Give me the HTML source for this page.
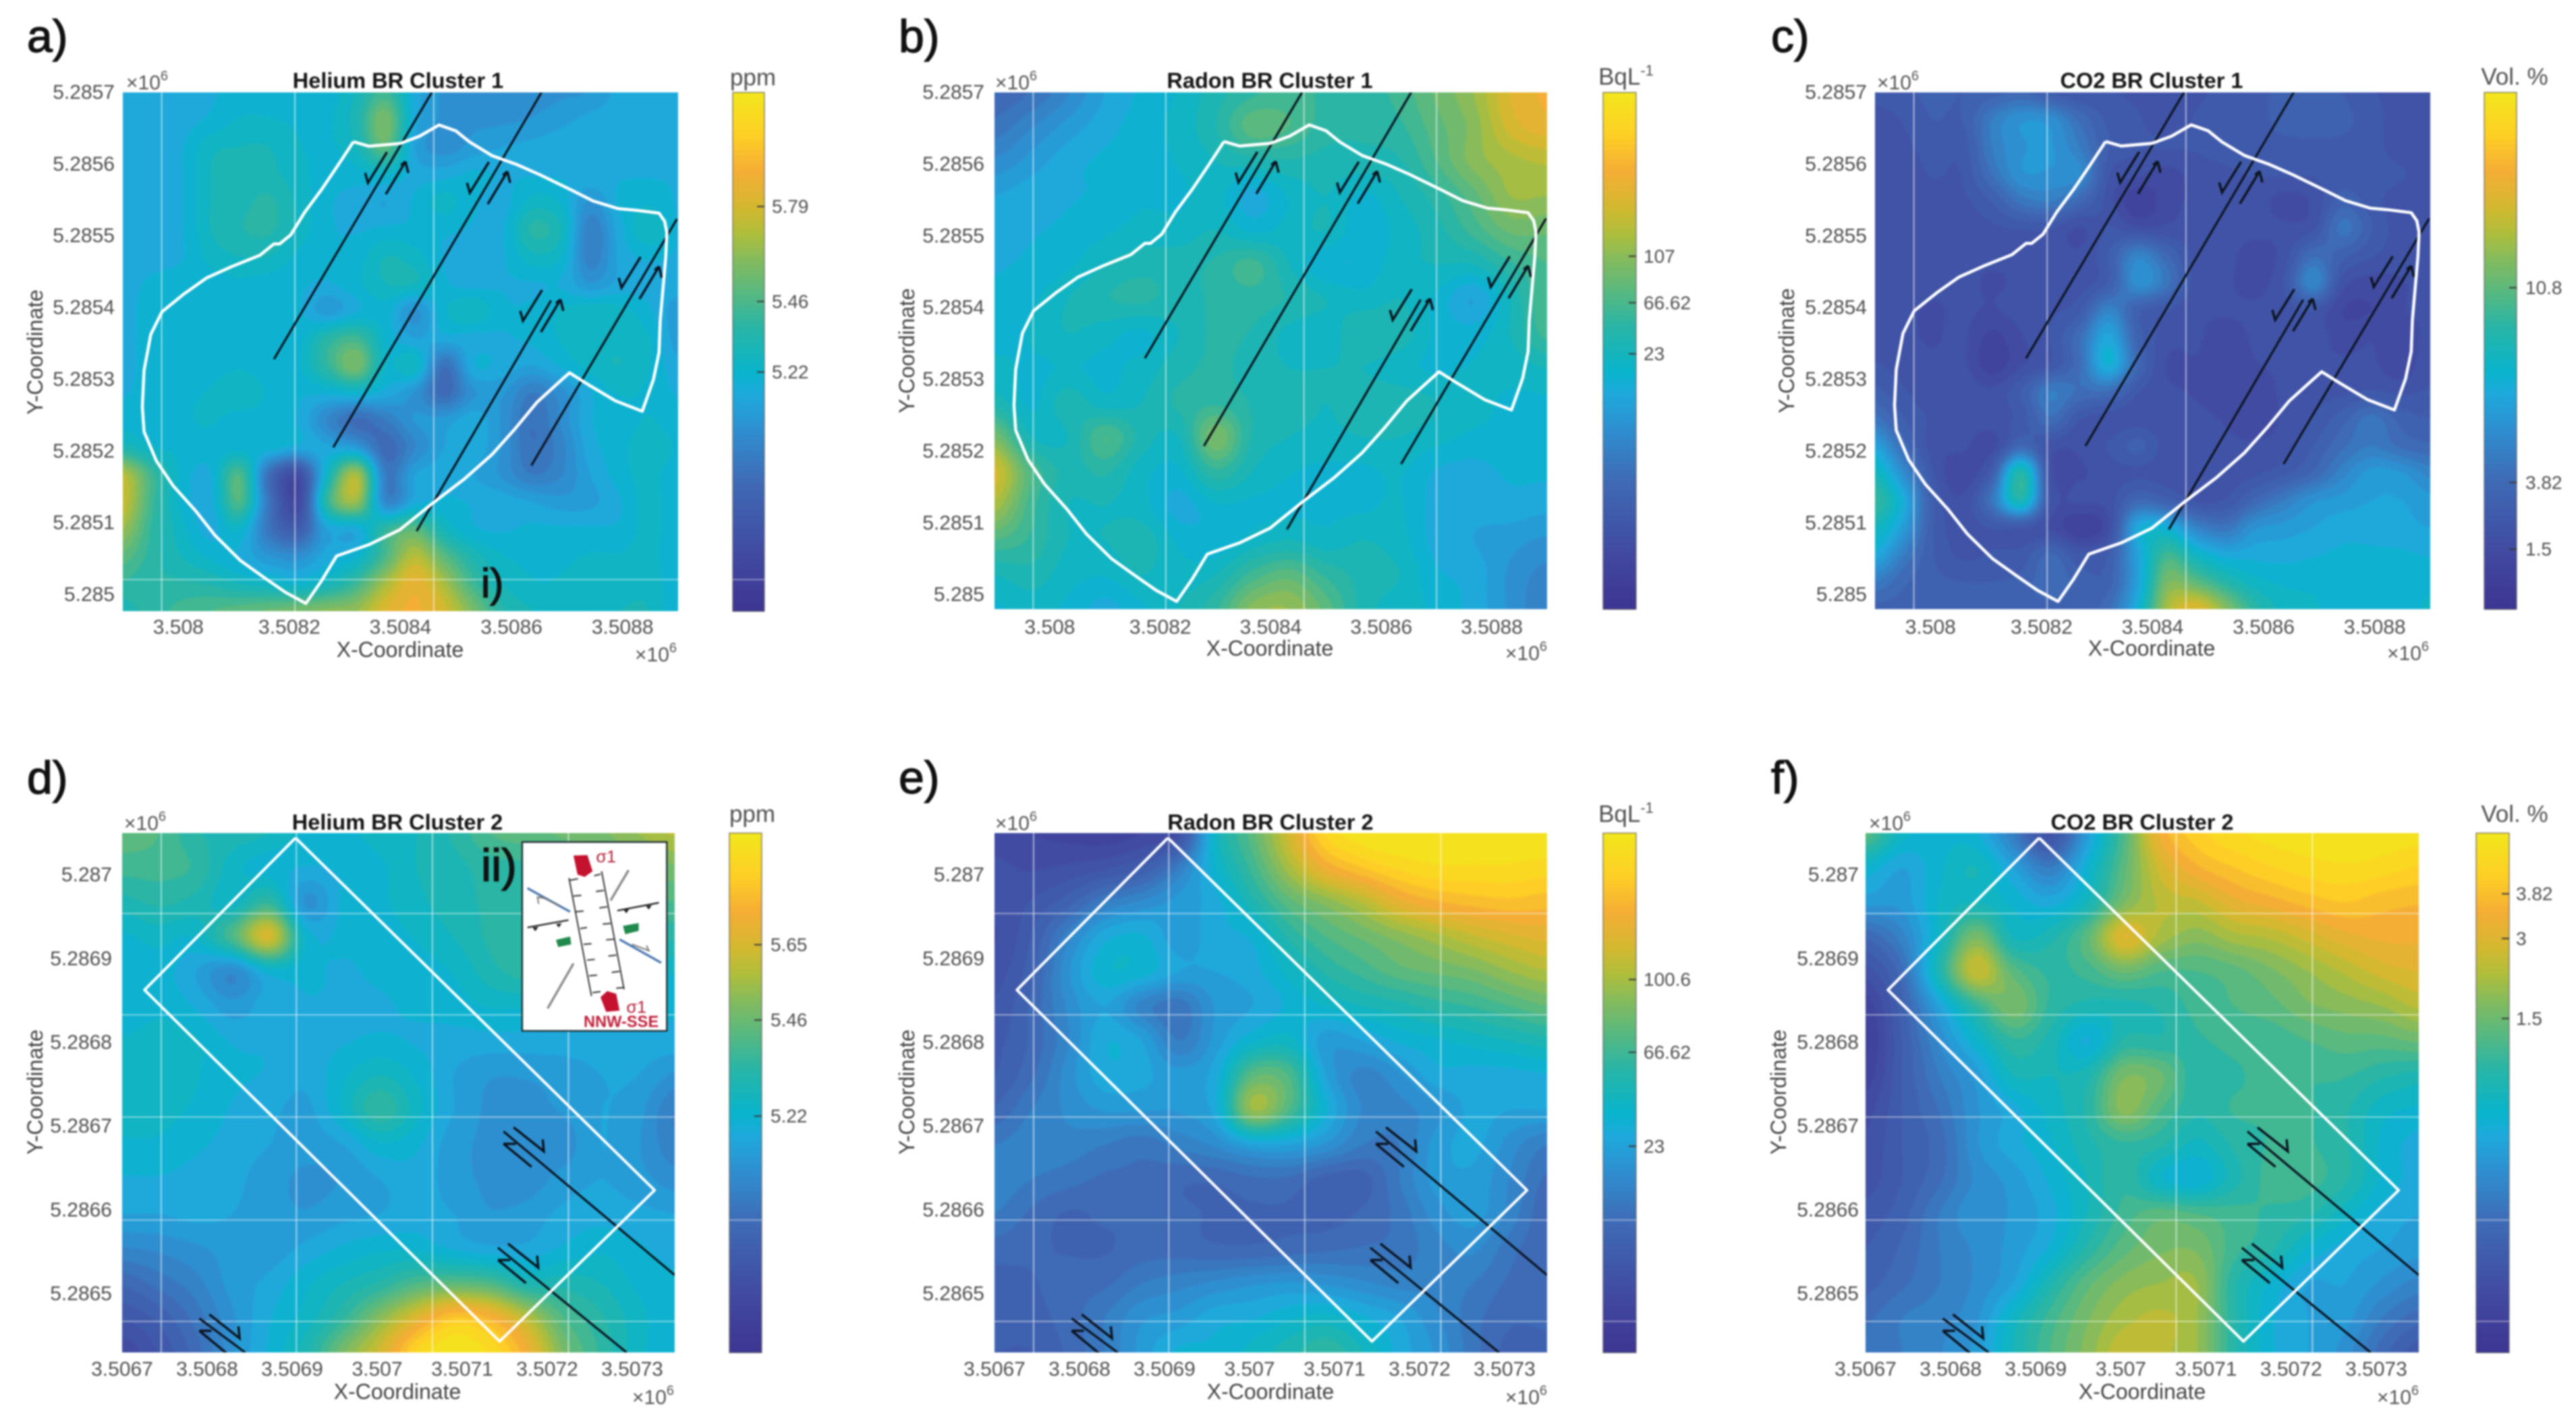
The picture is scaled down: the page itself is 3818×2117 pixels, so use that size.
<!DOCTYPE html>
<html lang="en">
<head>
<meta charset="utf-8">
<title>Soil gas maps, BR clusters 1 and 2</title>
<style>
html,body{margin:0;padding:0;background:#fff;}
svg{display:block;font-family:"Liberation Sans",sans-serif;filter:blur(1.4px);}
.tick{font-size:30px;fill:#505050;}
.cbtick{font-size:28px;fill:#505050;}
.axt{font-size:32px;fill:#444;text-anchor:middle;dominant-baseline:central;}
.title{font-size:32.5px;font-weight:bold;fill:#151515;text-anchor:middle;dominant-baseline:central;}
.mult{font-size:30px;fill:#555;dominant-baseline:central;}
.cbt{font-size:35px;fill:#505050;text-anchor:middle;dominant-baseline:central;}
.letter{font-size:68px;fill:#111;stroke:#111;stroke-width:1.4px;}
</style>
</head>
<body>
<svg id="fig" xmlns="http://www.w3.org/2000/svg" width="3818" height="2117" viewBox="0 0 3818 2117">
<rect width="3818" height="2117" fill="#fff"/>
<defs id="defs"></defs>
<g id="panels"></g>

<g>
<text class="letter" x="40" y="77">a)</text>
<text class="title" x="590" y="119.5">Helium BR Cluster 1</text>
<text class="axt" x="593" y="963">X-Coordinate</text>
<text class="axt" transform="translate(52 522) rotate(-90)">Y-Coordinate</text>
<text class="mult" x="187" y="123">×10<tspan dy="-10" font-size="20">6</tspan></text>
<text class="mult" x="1003" y="971" text-anchor="end">×10<tspan dy="-10" font-size="20">6</tspan></text>
<text class="cbt" x="1116" y="115">ppm</text>
<text class="letter" x="713" y="885" style="font-size:60px">i)</text>
</g>
<g>
<text class="letter" x="1332" y="77">b)</text>
<text class="title" x="1882" y="119.5">Radon BR Cluster 1</text>
<text class="axt" x="1882" y="961">X-Coordinate</text>
<text class="axt" transform="translate(1344 520) rotate(-90)">Y-Coordinate</text>
<text class="mult" x="1475" y="123">×10<tspan dy="-10" font-size="20">6</tspan></text>
<text class="mult" x="2293" y="969" text-anchor="end">×10<tspan dy="-10" font-size="20">6</tspan></text>
<text class="cbt" x="2410" y="114">BqL<tspan dy="-10" font-size="22">-1</tspan></text>
</g>
<g>
<text class="letter" x="2625" y="77">c)</text>
<text class="title" x="3189" y="119.5">CO2 BR Cluster 1</text>
<text class="axt" x="3189" y="961">X-Coordinate</text>
<text class="axt" transform="translate(2648 520) rotate(-90)">Y-Coordinate</text>
<text class="mult" x="2782" y="123">×10<tspan dy="-10" font-size="20">6</tspan></text>
<text class="mult" x="3600" y="969" text-anchor="end">×10<tspan dy="-10" font-size="20">6</tspan></text>
<text class="cbt" x="3727" y="114">Vol. %</text>
</g>
<g>
<text class="letter" x="40" y="1176">d)</text>
<text class="title" x="589" y="1219">Helium BR Cluster 2</text>
<text class="axt" x="589" y="2063">X-Coordinate</text>
<text class="axt" transform="translate(52 1619) rotate(-90)">Y-Coordinate</text>
<text class="mult" x="184" y="1221">×10<tspan dy="-10" font-size="20">6</tspan></text>
<text class="mult" x="999" y="2072" text-anchor="end">×10<tspan dy="-10" font-size="20">6</tspan></text>
<text class="cbt" x="1115" y="1207">ppm</text>
</g>
<g>
<text class="letter" x="1332" y="1176">e)</text>
<text class="title" x="1883" y="1219">Radon BR Cluster 2</text>
<text class="axt" x="1883" y="2063">X-Coordinate</text>
<text class="axt" transform="translate(1344 1619) rotate(-90)">Y-Coordinate</text>
<text class="mult" x="1475" y="1221">×10<tspan dy="-10" font-size="20">6</tspan></text>
<text class="mult" x="2293" y="2072" text-anchor="end">×10<tspan dy="-10" font-size="20">6</tspan></text>
<text class="cbt" x="2410" y="1207">BqL<tspan dy="-10" font-size="22">-1</tspan></text>
</g>
<g>
<text class="letter" x="2625" y="1176">f)</text>
<text class="title" x="3175" y="1219">CO2 BR Cluster 2</text>
<text class="axt" x="3175" y="2063">X-Coordinate</text>
<text class="axt" transform="translate(2636 1619) rotate(-90)">Y-Coordinate</text>
<text class="mult" x="2770" y="1221">×10<tspan dy="-10" font-size="20">6</tspan></text>
<text class="mult" x="3585" y="2072" text-anchor="end">×10<tspan dy="-10" font-size="20">6</tspan></text>
<text class="cbt" x="3727" y="1207">Vol. %</text>
</g>

<g>
<text class="letter" x="713" y="1306">ii)</text>
<g transform="translate(750 1220) scale(0.3333)">
<rect x="72" y="85" width="643" height="840" fill="#fff" stroke="#1c2a30" stroke-width="7"/>
<g stroke="#333" stroke-width="6" fill="none">
<path d="M280 245L380 770M425 215L525 740"/>
<path d="M285 255L320 248M300 325L335 322M310 395L345 392M330 470L360 465M345 540L380 537M360 610L395 607M370 680L405 677M385 755L420 750"/>
<path d="M392 235L420 228M400 305L435 300M415 378L450 373M430 450L465 447M445 520L480 517M455 592L490 588M470 665L505 660M490 735L525 732"/>
</g>
<polygon points="300,145 362,143 385,215 350,240 318,230" fill="#c4122f"/>
<polygon points="420,775 450,748 490,760 505,835 445,840" fill="#c4122f"/>
<path d="M95 290L285 395M505 518L690 622" stroke="#4a78b0" stroke-width="10" fill="none"/>
<path d="M150 325L240 370M145 360L140 330L170 335M560 540L640 570M625 545L635 570" stroke="#777" stroke-width="6" fill="none"/>
<path d="M465 345L545 210M185 825L300 625" stroke="#888" stroke-width="10" fill="none"/>
<path d="M495 390L680 355M95 465L278 432" stroke="#222" stroke-width="7" fill="none"/>
<path d="M522 385L548 382L535 402ZM622 370L648 366L635 385ZM118 465L144 462L130 482ZM222 450L248 446L235 465Z" fill="#222"/>
<polygon points="520,458 590,445 590,480 530,495" fill="#1f8a4c"/>
<polygon points="222,520 285,505 290,540 232,552" fill="#1f8a4c"/>
<text x="400" y="175" font-size="76" fill="#b5203a">σ1</text>
<text x="535" y="845" font-size="76" fill="#b5203a">σ1</text>
<text x="345" y="908" font-size="71" font-weight="bold" fill="#c0203a">NNW-SSE</text>
</g>
</g>
</svg>

<script>
/* Every grid: value = position on the colour bar, in percent. */
const heliumCluster1Grid = [
[42,42,42,43,44,44,44,45,50,58,42,36,35,35,35,36,37,41,42,42],
[42,42,42,44,47,47,46,46,52,66,42,36,36,36,37,39,41,42,42,42],
[42,42,43,49,50,50,47,46,50,62,40,35,38,40,41,42,42,42,42,42],
[42,42,43,50,51,51,48,45,45,47,42,42,44,43,43,43,43,43,43,43],
[42,42,43,50,52,54,49,44,42,40,44,48,44,42,48,46,36,44,46,43],
[42,42,43,50,53,54,49,44,43,44,44,44,43,43,54,50,31,42,50,43],
[42,42,43,48,50,50,46,44,45,50,48,43,42,43,49,47,31,41,44,43],
[42,44,45,45,46,45,44,43,46,50,50,44,42,43,43,43,37,41,42,42],
[42,45,45,45,45,45,44,38,43,45,36,46,50,44,44,47,49,48,44,38],
[42,45,45,45,45,45,45,54,58,46,40,42,42,43,44,47,49,49,47,38],
[42,45,45,45,46,45,46,56,66,47,49,27,43,42,40,44,48,50,47,41],
[43,45,46,47,50,46,44,44,46,42,36,25,36,37,30,35,43,47,46,43],
[45,45,46,47,45,45,43,33,26,30,37,38,42,36,27,34,43,44,47,44],
[52,47,46,45,45,45,42,41,38,25,33,40,42,36,27,32,42,45,50,46],
[74,58,46,43,60,26,13,48,72,30,40,42,40,36,30,33,40,45,48,44],
[76,58,46,42,60,28,11,56,70,33,42,44,43,42,40,38,39,43,48,44],
[70,56,48,42,47,28,20,40,42,56,62,50,44,43,44,44,44,44,48,44],
[62,55,50,46,43,37,35,42,46,60,74,62,52,47,46,46,47,47,48,44],
[56,54,54,53,50,48,46,50,58,72,82,72,58,50,47,47,48,48,49,44],
[52,55,58,60,62,64,66,68,70,80,84,78,66,54,50,48,48,50,50,44]];

const radonCluster1Grid = [
[24,27,33,40,44,47,52,56,58,56,55,58,64,70,80,84],
[28,33,38,42,45,48,53,62,60,55,54,56,62,68,78,82],
[34,38,42,44,45,47,50,52,53,52,52,53,60,68,72,74],
[40,42,43,44,46,46,48,42,47,50,46,50,55,62,70,70],
[42,43,44,46,48,48,50,46,48,50,44,48,52,58,64,64],
[43,44,46,50,52,52,54,58,50,44,44,49,50,50,56,60],
[44,46,50,53,54,52,54,55,53,50,48,50,46,40,50,60],
[45,47,50,48,46,50,54,53,49,48,53,52,46,45,50,58],
[48,46,47,46,48,52,54,52,50,50,50,48,46,47,48,50],
[52,46,52,48,50,54,56,53,52,50,52,52,50,48,46,46],
[66,50,50,60,52,50,66,53,50,49,50,50,48,46,46,45],
[78,60,52,54,48,46,56,50,47,46,46,47,43,42,44,44],
[72,58,50,50,48,42,46,46,46,46,46,47,42,41,42,41],
[60,56,50,50,52,46,44,48,50,48,50,48,42,40,38,36],
[50,52,48,47,50,48,50,58,62,56,52,50,44,42,36,32],
[46,48,46,42,46,50,56,68,70,62,52,48,46,42,36,30]];

const co2Cluster1Grid = [
[18,19,21,20,22,24,20,17,17,16,15,16,18,19,21,22,20,17,16,15],
[15,17,20,20,30,36,35,26,19,17,15,17,18,19,21,22,21,18,15,15],
[15,16,18,18,30,36,37,30,20,17,17,17,18,19,19,19,19,18,15,15],
[14,15,17,17,27,36,36,34,17,14,12,15,16,17,17,17,18,18,17,15],
[14,15,15,16,20,28,30,24,15,7,12,14,15,15,12,14,22,18,15,15],
[15,15,15,15,16,17,17,13,17,14,14,15,15,15,14,16,28,20,15,15],
[15,15,14,14,14,14,15,14,20,32,24,15,15,11,15,26,21,17,15,15],
[14,15,14,14,13,14,15,15,20,35,28,15,14,12,17,33,15,12,13,15],
[15,14,13,14,13,15,16,19,32,21,17,14,14,14,15,17,10,10,13,14],
[15,14,13,14,9,13,17,26,41,22,15,14,11,14,15,15,12,13,12,14],
[17,15,14,14,8,13,17,26,44,24,13,13,10,13,14,14,14,14,11,16],
[21,17,15,16,14,20,30,26,26,17,14,13,11,11,14,15,16,17,16,17],
[28,20,16,15,15,18,26,17,15,15,14,14,13,11,14,17,22,28,22,20],
[40,25,15,14,12,24,15,14,17,21,15,14,14,14,15,20,26,30,26,24],
[50,34,17,11,20,54,15,13,15,16,15,14,15,16,19,24,32,38,37,32],
[57,42,20,14,28,52,17,14,15,24,21,16,17,24,30,36,38,40,40,38],
[50,38,20,15,17,17,13,7,13,42,44,32,28,36,38,40,42,42,41,40],
[42,30,20,16,17,18,24,17,20,40,58,48,42,42,42,43,44,44,44,43],
[30,24,21,20,20,21,26,22,22,40,66,62,54,48,46,46,46,46,46,46],
[22,22,21,22,22,22,22,22,26,44,72,80,68,55,49,47,46,46,46,47]];

const heliumCluster2Grid = [
[62,60,54,52,50,46,46,48,50,54,60,62,64,66,70,74],
[58,58,56,48,45,43,44,46,50,52,55,56,58,60,62,66],
[52,54,52,48,56,36,44,46,49,52,54,56,56,58,58,60],
[46,48,47,60,78,46,44,45,47,50,54,56,56,56,56,54],
[44,45,40,34,45,44,43,44,45,47,52,55,54,52,50,47],
[44,46,43,38,42,43,43,43,44,45,47,47,47,46,45,44],
[47,48,47,43,43,42,43,44,43,42,42,42,42,42,42,42],
[49,49,47,44,43,41,46,50,46,40,37,37,38,40,40,36],
[49,48,46,43,41,39,47,56,48,40,36,36,37,40,38,30],
[46,46,44,42,40,38,40,46,44,38,36,35,35,40,37,31],
[43,43,42,41,38,36,37,40,42,38,36,35,38,40,38,35],
[40,40,41,40,38,37,39,40,42,40,37,38,41,42,41,40],
[33,34,36,38,38,41,44,46,46,43,41,41,44,46,44,42],
[24,28,32,38,41,46,50,54,60,62,60,52,52,50,46,44],
[17,21,28,36,43,48,56,68,80,90,86,74,60,54,48,44],
[11,17,25,36,44,52,66,78,94,100,96,84,66,56,48,44]];

const radonCluster2Grid = [
[12,10,9,8,10,14,48,62,78,94,99,100,100,100,100,100],
[14,13,14,16,20,30,46,58,72,84,90,94,96,96,96,95],
[14,17,22,30,34,38,42,52,62,68,74,82,86,88,89,88],
[13,20,32,42,44,38,42,44,54,60,64,68,72,76,79,81],
[15,22,36,46,45,40,40,42,48,54,58,62,64,66,70,73],
[17,24,34,40,32,28,37,40,44,47,50,52,55,57,60,63],
[19,24,33,43,40,30,38,46,48,38,40,44,46,48,50,52],
[20,26,35,42,41,38,42,62,60,40,32,36,42,42,42,43],
[24,30,34,37,37,37,42,70,60,44,33,32,36,41,40,40],
[30,32,32,30,28,31,34,40,40,36,30,30,38,41,35,30],
[32,30,28,26,26,24,24,26,26,22,22,30,38,39,33,26],
[30,26,23,24,24,24,23,23,23,22,24,28,35,38,32,24],
[25,24,23,23,25,25,24,24,25,26,27,28,32,34,28,24],
[22,23,25,26,30,32,34,36,37,36,34,32,32,30,26,24],
[22,22,25,30,36,38,42,43,46,48,44,40,34,28,24,24],
[20,20,24,30,38,44,44,48,52,56,50,42,36,28,22,22]];

const co2Cluster2Grid = [
[62,48,46,44,30,15,38,60,84,92,96,98,99,100,99,98],
[46,40,46,50,40,30,45,62,78,86,90,93,95,96,95,93],
[38,38,47,50,46,42,50,66,74,76,82,85,88,90,88,87],
[24,32,48,66,50,52,62,80,72,68,72,74,78,82,84,84],
[15,26,52,76,62,56,58,64,60,60,62,66,70,74,78,80],
[8,22,40,56,66,56,52,52,54,58,60,62,66,68,70,74],
[6,20,34,46,56,52,43,54,54,56,58,58,60,62,62,64],
[8,20,30,38,50,50,52,66,64,54,56,58,57,57,54,52],
[12,20,27,36,42,48,54,68,60,54,57,57,57,54,48,46],
[14,20,25,36,42,46,52,56,54,49,54,57,57,54,46,42],
[15,20,26,34,38,44,50,56,47,44,52,58,58,54,46,42],
[18,22,30,36,37,42,50,58,62,60,58,56,54,48,42,40],
[20,24,30,34,38,44,54,62,66,66,58,54,46,42,40,38],
[22,26,30,34,40,52,62,68,70,70,54,46,40,40,36,32],
[26,30,32,36,48,58,66,72,74,70,54,44,40,38,30,25],
[28,30,33,38,50,60,68,76,74,70,54,44,40,35,25,18]];

/* Axis ticks */
const cluster1XTickValues = [3.508,3.5082,3.5084,3.5086,3.5088];
const cluster1XTickLabels = ['3.508','3.5082','3.5084','3.5086','3.5088'];
const cluster1YTickValues = [5.2857,5.2856,5.2855,5.2854,5.2853,5.2852,5.2851,5.285];
const cluster1YTickLabels = ['5.2857','5.2856','5.2855','5.2854','5.2853','5.2852','5.2851','5.285'];
const cluster2XTickValues = [3.5067,3.5068,3.5069,3.507,3.5071,3.5072,3.5073];
const cluster2XTickLabels = ['3.5067','3.5068','3.5069','3.507','3.5071','3.5072','3.5073'];
const cluster2YTickValues = [5.287,5.2869,5.2868,5.2867,5.2866,5.2865];
const cluster2YTickLabels = ['5.287','5.2869','5.2868','5.2867','5.2866','5.2865'];

/* Colour-bar ticks: position on the bar in percent, and printed label */
const heliumCluster1BarTicks = [78,59.7,46.1];
const heliumCluster1BarLabels = ['5.79','5.46','5.22'];
const radonCluster1BarTicks = [68.3,59.3,49.4];
const radonCluster1BarLabels = ['107','66.62','23'];
const co2Cluster1BarTicks = [62.2,24.5,11.6];
const co2Cluster1BarLabels = ['10.8','3.82','1.5'];
const heliumCluster2BarTicks = [78.5,64,45.5];
const heliumCluster2BarLabels = ['5.65','5.46','5.22'];
const radonCluster2BarTicks = [71.8,57.8,39.7];
const radonCluster2BarLabels = ['100.6','66.62','23'];
const co2Cluster2BarTicks = [88.3,79.7,64.3];
const co2Cluster2BarLabels = ['3.82','3','1.5'];

/* Faint white graticule lines, in map coordinates */
const cluster1GridX4 = [3.50797,3.50821,3.50846,3.5087];
const cluster1GridX3 = [3.50797,3.50821,3.50846];
const cluster1GridY = [5.285021];
const cluster2GridX = [3.506746,3.506905,3.507065,3.507225];
const cluster2GridXShort = [3.507065,3.507225];
const cluster2GridY = [5.286954,5.286833,5.286711,5.286588,5.286467];

/* Digitised annotations, given in frame units of the digitising sheet */
const cluster1Frame = {x0:220,x1:1212,y0:205,y1:1352};
const cluster1Outline = [[632,314],[660,324],[715,318],[750,302],[785,277],[815,290],[840,315],[880,345],[925,365],[965,387],[1020,420],[1060,445],[1105,462],[1140,466],[1178,472],[1188,490],[1192,515],[1190,570],[1185,640],[1180,710],[1178,780],[1168,840],[1148,910],[1100,887],[1050,850],[1018,825],[1000,845],[960,890],[920,950],[880,1005],[830,1060],[775,1112],[715,1172],[660,1205],[602,1230],[575,1285],[547,1335],[510,1310],[475,1280],[430,1240],[385,1185],[350,1130],[310,1075],[280,1020],[258,955],[255,900],[258,820],[270,740],[290,690],[330,650],[370,615],[415,590],[465,565],[490,540],[500,540],[520,520],[545,470],[575,420],[605,365],[632,314]];
const cluster1Faults = [[[490,795],[772,205]],[[596,990],[968,205]],[[745,1175],[985,665]],[[950,1030],[1210,485]]];
const cluster1ShearCentres = [[695,383],[877,405],[972,688],[1148,615]];
const cluster2Frame = {x0:218,x1:1206,y0:222,y1:1397};
const cluster2Outline = [[528,233],[258,577],[893,1372],[1170,1030],[528,233]];
const cluster2Faults = [[[900,897],[1206,1222]],[[890,1160],[1120,1397]],[[356,1320],[438,1397]]];
const cluster2ShearCentres = [[900,897],[890,1160],[356,1320]];

/* Colour map */
const parulaStops = [0,10,25,35,42,46,55,60,68,73,78,85,92,100];
const parulaColours = ['#3d3593','#41479f','#3f6ab5','#2e8fd0','#1eaadc','#08b4cc','#2ab5a5','#4db888','#86bb5c','#b0be3a','#d4b830','#f5ae35','#fed025','#f2e61c'];

const SVGNS = 'http://www.w3.org/2000/svg';
const LEVELS = 30, STEP = 6, PAD = 12;

function hexRgb(h){return [parseInt(h.slice(1,3),16),parseInt(h.slice(3,5),16),parseInt(h.slice(5,7),16)];}
function parula(p){
  p = Math.max(0,Math.min(100,p));
  let i = 0;
  while(i < parulaStops.length-2 && p > parulaStops[i+1]) i++;
  const t = (p-parulaStops[i])/(parulaStops[i+1]-parulaStops[i]);
  const a = hexRgb(parulaColours[i]), b = hexRgb(parulaColours[i+1]);
  return 'rgb('+Math.round(a[0]+(b[0]-a[0])*t)+','+Math.round(a[1]+(b[1]-a[1])*t)+','+Math.round(a[2]+(b[2]-a[2])*t)+')';
}
function make(tag,parent,attrs){
  const el = document.createElementNS(SVGNS,tag);
  for(const k in attrs) el.setAttribute(k,attrs[k]);
  parent.appendChild(el);
  return el;
}
function xScale(p,v){return p.left+(v-p.xDomain[0])/(p.xDomain[1]-p.xDomain[0])*(p.right-p.left);}
function yScale(p,v){return p.top+(p.yDomain[1]-v)/(p.yDomain[1]-p.yDomain[0])*(p.bottom-p.top);}
function frameX(p,f,x){return xScale(p,p.xDomain[0]+(x-f.x0)/(f.x1-f.x0)*(p.xDomain[1]-p.xDomain[0]));}
function frameY(p,f,y){return yScale(p,p.yDomain[1]-(y-f.y0)/(f.y1-f.y0)*(p.yDomain[1]-p.yDomain[0]));}
function barY(p,v){return p.bottom+(p.top-p.bottom)*v/100;}

function cubic(a,b,c,d,t){
  return 0.5*(2*b+(c-a)*t+(2*a-5*b+4*c-d)*t*t+(3*b-a-3*c+d)*t*t*t);
}
function sampleGrid(g,u,v){
  const R=g.length,C=g[0].length;
  const gx=Math.max(0,Math.min(1,u))*(C-1), gy=Math.max(0,Math.min(1,v))*(R-1);
  const i=Math.min(C-2,Math.floor(gx)), j=Math.min(R-2,Math.floor(gy));
  const tx=gx-i, ty=gy-j, row=[];
  for(let m=-1;m<=2;m++){
    const r=g[Math.max(0,Math.min(R-1,j+m))];
    row.push(cubic(r[Math.max(0,i-1)],r[i],r[i+1],r[Math.min(C-1,i+2)],tx));
  }
  return cubic(row[0],row[1],row[2],row[3],ty);
}
function num(n){return String(Math.round(n*10)/10);}

function drawHeat(p,parent){
  const W=p.right-p.left,H=p.bottom-p.top;
  const nx=Math.ceil((W+2*PAD)/STEP),ny=Math.ceil((H+2*PAD)/STEP);
  const vals=new Float32Array((nx+1)*(ny+1));
  for(let j=0;j<=ny;j++)for(let i=0;i<=nx;i++){
    vals[j*(nx+1)+i]=sampleGrid(p.grid,(i*STEP-PAD)/W,(j*STEP-PAD)/H);
  }
  const ox=p.left-PAD,oy=p.top-PAD;
  const base=make('rect',parent,{x:ox,y:oy,width:nx*STEP,height:ny*STEP,fill:parula(50/LEVELS)});
  
  
  for(let k=1;k<LEVELS;k++){
    const t=k*100/LEVELS;
    const parts=[];
    for(let j=0;j<ny;j++){
      let run=-1;
      const y0=oy+j*STEP,y1=y0+STEP;
      for(let i=0;i<=nx;i++){
        let full=false,any=false,a,b,c,d;
        if(i<nx){
          a=vals[j*(nx+1)+i];b=vals[j*(nx+1)+i+1];c=vals[(j+1)*(nx+1)+i+1];d=vals[(j+1)*(nx+1)+i];
          full=a>=t&&b>=t&&c>=t&&d>=t;
          any=a>=t||b>=t||c>=t||d>=t;
        }
        if(full){ if(run<0) run=i; continue; }
        if(run>=0){
          parts.push('M'+num(ox+run*STEP)+' '+num(y0)+'H'+num(ox+i*STEP)+'V'+num(y1)+'H'+num(ox+run*STEP)+'Z');
          run=-1;
        }
        if(any){
          const x0=ox+i*STEP,x1=x0+STEP;
          const cs=[[x0,y0,a],[x1,y0,b],[x1,y1,c],[x0,y1,d]];
          let s='',first=true;
          for(let q=0;q<4;q++){
            const A=cs[q],B=cs[(q+1)%4];
            if(A[2]>=t){ s+=(first?'M':'L')+num(A[0])+' '+num(A[1]); first=false; }
            if((A[2]>=t)!==(B[2]>=t)){
              const f=(t-A[2])/(B[2]-A[2]);
              s+=(first?'M':'L')+num(A[0]+(B[0]-A[0])*f)+' '+num(A[1]+(B[1]-A[1])*f); first=false;
            }
          }
          parts.push(s+'Z');
        }
      }
    }
    if(parts.length){
      const band=make('path',parent,{d:parts.join(''),fill:parula((k+.5)*100/LEVELS)});
      
      
    }
  }
}

function drawGraticule(p,parent){
  p.gridX.forEach(function(v){
    const l=make('line',parent,{x1:xScale(p,v),x2:xScale(p,v),y1:p.top,y2:p.bottom,stroke:'#fff','stroke-width':2,'stroke-opacity':.55});
    
    
  });
  p.gridY.forEach(function(v){
    const l=make('line',parent,{x1:p.left,x2:p.right,y1:yScale(p,v),y2:yScale(p,v),stroke:'#fff','stroke-width':2,'stroke-opacity':.45});
    
    
  });
}

function drawAnnotations(p,parent){
  const f=p.frame;
  const tx=function(x){return frameX(p,f,x);}, ty=function(y){return frameY(p,f,y);};
  p.faults.forEach(function(seg){
    const l=make('line',parent,{x1:tx(seg[0][0]),y1:ty(seg[0][1]),x2:tx(seg[1][0]),y2:ty(seg[1][1]),stroke:'#0c1420','stroke-width':3.2});
    
    
  });
  p.shears.forEach(function(c){
    const r=p.shearShape;
    let d='';
    r.forEach(function(poly){
      poly.forEach(function(pt,i){d+=(i?'L':'M')+num(tx(c[0]+pt[0]))+' '+num(ty(c[1]+pt[1]));});
    });
    const s=make('path',parent,{d:d,fill:'none',stroke:'#0c1420','stroke-width':3.5});
    
    
  });
  const pts=p.outline.map(function(q){return num(tx(q[0]))+','+num(ty(q[1]));}).join(' ');
  const o=make('polyline',parent,{points:pts,fill:'none',stroke:'#fff','stroke-width':p.outlineWidth,'stroke-linejoin':'round'});
  
  
}

function drawAxes(p,parent){
  p.xTicks.forEach(function(v,i){
    const t=make('text',parent,{x:xScale(p,v),y:p.xLabelY,'text-anchor':'middle','dominant-baseline':'central','class':'tick'});
    t.textContent=p.xLabels[i];
    
    
  });
  p.yTicks.forEach(function(v,i){
    const t=make('text',parent,{x:p.yLabelRight,y:yScale(p,v),'text-anchor':'end','dominant-baseline':'central','class':'tick'});
    t.textContent=p.yLabels[i];
    
    
  });
}

function drawColourbar(p,parent){
  const g=make('g',parent,{});
  
  
  const N=100;
  for(let i=0;i<N;i++){
    const y1=barY(p,i),y2=barY(p,i+1);
    const r=make('rect',g,{x:p.barLeft,y:y2,width:p.barRight-p.barLeft,height:y1-y2+.8,fill:parula(i+.5)});
    
    
  }
  const b=make('rect',g,{x:p.barLeft,y:p.top,width:p.barRight-p.barLeft,height:p.bottom-p.top,fill:'none',stroke:'#5a5a5a','stroke-width':1.5,'stroke-opacity':.7});
  
  
  p.gridYBar.forEach(function(v){
    const l=make('line',g,{x1:p.barLeft,x2:p.barRight,y1:yScale(p,v),y2:yScale(p,v),stroke:'#fff','stroke-width':2,'stroke-opacity':.4});
    
    
  });
  p.barTicks.forEach(function(v,i){
    const y=barY(p,v);
    const l=make('line',g,{x1:p.barRight-11,x2:p.barRight,y1:y,y2:y,stroke:'#3a3a3a','stroke-width':2});
    
    
    const t=make('text',g,{x:p.barLabelX,y:y,'dominant-baseline':'central','class':'cbtick'});
    t.textContent=p.barLabels[i];
    
    
  });
}

const shearCluster1 = [[[-3,-46],[-37,22],[-42,0]],[[22,-17],[30,-25],[-5,47]],[[30,-25],[35,0]]];
const shearCluster2 = [[[18,-9],[72,45],[70,18]],[[0,28],[50,80]],[[0,28],[22,28]]];
const topX=[3.5079,3.5089], topY=[5.28498,5.2857], botX=[3.5067,3.50735], botY=[5.28643,5.28705];
const cfg1={xDomain:topX,yDomain:topY,top:137,xLabelY:930,xTicks:cluster1XTickValues,xLabels:cluster1XTickLabels,yTicks:cluster1YTickValues,yLabels:cluster1YTickLabels,frame:cluster1Frame,outline:cluster1Outline,faults:cluster1Faults,shears:cluster1ShearCentres,shearShape:shearCluster1,outlineWidth:4.5};
const cfg2={xDomain:botX,yDomain:botY,top:1235,bottom:2005,xLabelY:2030,xTicks:cluster2XTickValues,xLabels:cluster2XTickLabels,yTicks:cluster2YTickValues,yLabels:cluster2YTickLabels,frame:cluster2Frame,outline:cluster2Outline,faults:cluster2Faults,shears:cluster2ShearCentres,shearShape:shearCluster2,outlineWidth:4};
const panelList=[
 Object.assign({},cfg1,{id:'a',yDomain:[5.284977,5.2857],left:182,right:1005,bottom:906,yLabelRight:170,grid:heliumCluster1Grid,gridX:cluster1GridX3,gridY:cluster1GridY,gridYBar:cluster1GridY,barLeft:1086,barRight:1133,barLabelX:1144,barTicks:heliumCluster1BarTicks,barLabels:heliumCluster1BarLabels}),
 Object.assign({},cfg1,{id:'b',left:1474,right:2293,bottom:903,yLabelRight:1459,grid:radonCluster1Grid,gridX:cluster1GridX4,gridY:[],gridYBar:[],barLeft:2376,barRight:2425,barLabelX:2436,barTicks:radonCluster1BarTicks,barLabels:radonCluster1BarLabels}),
 Object.assign({},cfg1,{id:'c',left:2779,right:3602,bottom:903,yLabelRight:2767,grid:co2Cluster1Grid,gridX:cluster1GridX3,gridY:[],gridYBar:[],barLeft:3682,barRight:3730,barLabelX:3743,barTicks:co2Cluster1BarTicks,barLabels:co2Cluster1BarLabels}),
 Object.assign({},cfg2,{id:'d',left:181,right:1000,yLabelRight:166,grid:heliumCluster2Grid,gridX:cluster2GridX,gridY:cluster2GridY,gridYBar:[cluster2GridY[3]],barLeft:1081,barRight:1129,barLabelX:1142,barTicks:heliumCluster2BarTicks,barLabels:heliumCluster2BarLabels}),
 Object.assign({},cfg2,{id:'e',left:1474,right:2293,yLabelRight:1459,grid:radonCluster2Grid,gridX:cluster2GridX,gridY:cluster2GridY,gridYBar:[cluster2GridY[3],cluster2GridY[4]],barLeft:2376,barRight:2425,barLabelX:2436,barTicks:radonCluster2BarTicks,barLabels:radonCluster2BarLabels}),
 Object.assign({},cfg2,{id:'f',left:2765,right:3585,yLabelRight:2755,grid:co2Cluster2Grid,gridX:cluster2GridXShort,gridY:cluster2GridY,gridYBar:[cluster2GridY[3],cluster2GridY[4]],barLeft:3670,barRight:3719,barLabelX:3729,barTicks:co2Cluster2BarTicks,barLabels:co2Cluster2BarLabels})
];

const defs=document.getElementById('defs');
const root=document.getElementById('panels');
panelList.forEach(function(p){
  const cp=make('clipPath',defs,{id:'clip-'+p.id});
  make('rect',cp,{x:p.left,y:p.top,width:p.right-p.left,height:p.bottom-p.top});
  const g=make('g',root,{});
  
  
  const clip=make('g',g,{'clip-path':'url(#clip-'+p.id+')'});
  
  
  const heat=make('g',clip,{style:'filter:blur(1.6px)'});
  
  
  drawHeat(p,heat);
  drawGraticule(p,clip);
  drawAnnotations(p,clip);
  drawAxes(p,g);
  drawColourbar(p,g);
});
</script>
</body>
</html>
